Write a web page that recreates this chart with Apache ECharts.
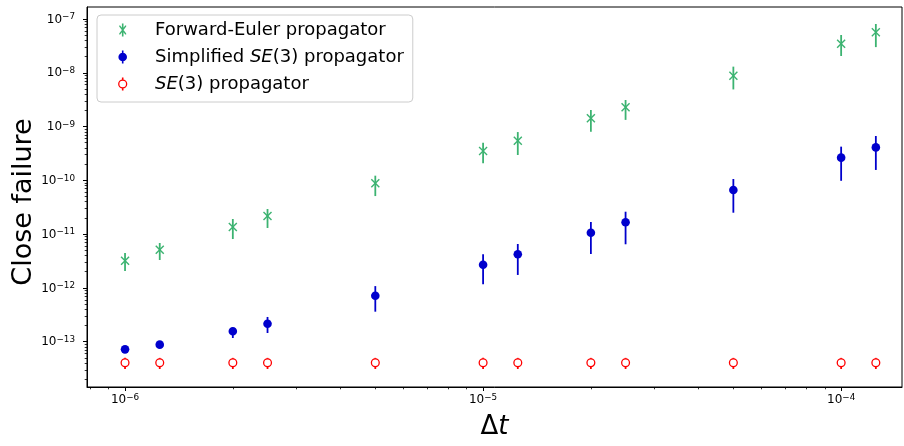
<!DOCTYPE html>
<html>
<head>
<meta charset="utf-8">
<script src="https://cdn.jsdelivr.net/npm/echarts@6/dist/echarts.min.js"></script>
<style>html,body{margin:0;padding:0;background:#fff}#c{width:904px;height:446px}</style>
</head>
<body>
<div id="c"></div>
<script>
// ---- data ----
const dt = [1e-6, 1.25e-6, 2e-6, 2.5e-6, 5e-6, 1e-5, 1.25e-5, 2e-5, 2.5e-5, 5e-5, 1e-4, 1.25e-4];

const feMid = [3.2e-12, 5.1e-12, 1.36e-11, 2.17e-11, 8.8e-11, 3.5e-10, 5.45e-10, 1.43e-9, 2.28e-9, 8.8e-9, 3.47e-8, 5.65e-8];
const feLo  = [2.06e-12, 3.3e-12, 8.1e-12, 1.3e-11, 5.1e-11, 2.08e-10, 2.96e-10, 8.0e-10, 1.33e-9, 4.9e-9, 2.05e-8, 3.0e-8];
const feHi  = [4.46e-12, 6.84e-12, 1.91e-11, 2.93e-11, 1.22e-10, 5.0e-10, 7.9e-10, 2.03e-9, 3.12e-9, 1.3e-8, 5.04e-8, 8.07e-8];

const sMid = [7.2e-14, 8.8e-14, 1.56e-13, 2.16e-13, 7.16e-13, 2.7e-12, 4.22e-12, 1.06e-11, 1.66e-11, 6.6e-11, 2.64e-10, 4.1e-10];
const sLo  = [6.6e-14, 8.1e-14, 1.17e-13, 1.45e-13, 3.61e-13, 1.17e-12, 1.74e-12, 4.27e-12, 6.47e-12, 2.5e-11, 9.8e-11, 1.56e-10];
const sHi  = [7.8e-14, 9.5e-14, 1.8e-13, 2.88e-13, 1.08e-12, 4.22e-12, 6.55e-12, 1.68e-11, 2.61e-11, 1.06e-10, 4.23e-10, 6.67e-10];

const seMid = [4.06e-14, 4.06e-14, 4.06e-14, 4.06e-14, 4.06e-14, 4.06e-14, 4.06e-14, 4.06e-14, 4.06e-14, 4.06e-14, 4.06e-14, 4.06e-14];
const seLo  = [3.1e-14, 3.1e-14, 3.1e-14, 3.1e-14, 3.1e-14, 3.1e-14, 3.1e-14, 3.1e-14, 3.1e-14, 3.1e-14, 3.1e-14, 3.1e-14];
const seHi  = [5.0e-14, 5.0e-14, 5.0e-14, 5.0e-14, 5.0e-14, 5.0e-14, 5.0e-14, 5.0e-14, 5.0e-14, 5.0e-14, 5.0e-14, 5.0e-14];

const seriesNames = ['Forward-Euler propagator', 'Simplified SE(3) propagator', 'SE(3) propagator'];
const xMajorTicks = [1e-6, 1e-5, 1e-4];
const yMajorTicks = [1e-13, 1e-12, 1e-11, 1e-10, 1e-9, 1e-8, 1e-7];
const X_MIN = 7.83e-7, X_MAX = 1.479e-4;
const Y_MIN = 1.436e-14, Y_MAX = 1.671e-7;

// minor ticks (2..9 x 10^n) inside axis ranges
function minorTicks(e0, e1, lo, hi) {
  const out = [];
  for (let e = e0; e <= e1; e++) {
    for (let m = 2; m <= 9; m++) {
      const v = m * Math.pow(10, e);
      if (v >= lo && v <= hi) out.push(v);
    }
  }
  return out;
}
const xMinorTicks = minorTicks(-7, -4, X_MIN, X_MAX);
const yMinorTicks = minorTicks(-15, -7, Y_MIN, Y_MAX);

function powLabel(v) {
  const e = Math.round(Math.log10(v));
  return '{b|10}{s|' + (e < 0 ? '\u2212' : '') + Math.abs(e) + '}';
}
const FONT = 'DejaVu Sans';
const tickRich = {
  b: {fontFamily: FONT, fontSize: 12, lineHeight: 13, padding: [5, 0, 0, 0], verticalAlign: 'bottom', color: '#000'},
  s: {fontFamily: FONT, fontSize: 8.8, lineHeight: 10, verticalAlign: 'top', color: '#000'}
};

const GREEN = '#3cb371', BLUE = '#0000cd', RED = '#ff0000';

function rows(mid, lo, hi) {
  return dt.map((x, i) => [x, mid[i], lo[i], hi[i]]);
}

function makeRender(kind, color) {
  return function (params, api) {
    const x = api.value(0);
    const c = api.coord([x, api.value(1)]);
    const l = api.coord([x, api.value(2)]);
    const h = api.coord([x, api.value(3)]);
    const ch = [{
      type: 'line',
      shape: {x1: c[0], y1: l[1], x2: c[0], y2: h[1]},
      style: {stroke: color, lineWidth: 1.8}
    }];
    if (kind === 'x') {
      const r = 4;
      ch.push({type: 'line', shape: {x1: c[0]-r, y1: c[1]-r, x2: c[0]+r, y2: c[1]+r}, style: {stroke: color, lineWidth: 1.4}});
      ch.push({type: 'line', shape: {x1: c[0]-r, y1: c[1]+r, x2: c[0]+r, y2: c[1]-r}, style: {stroke: color, lineWidth: 1.4}});
    } else if (kind === 'dot') {
      ch.push({type: 'circle', shape: {cx: c[0], cy: c[1], r: 4.3}, style: {fill: color}});
    } else {
      ch.push({type: 'circle', shape: {cx: c[0], cy: c[1], r: 3.9}, style: {fill: '#fff', stroke: color, lineWidth: 1.3}});
    }
    return {type: 'group', children: ch};
  };
}

// legend icons in a 14 x 16 box
const B = 'M0,0 M14,16 ';
const BAR = 'M6.2,1.5 L7.8,1.5 L7.8,14.5 L6.2,14.5 Z ';
const ICON_X = 'path://' + B + BAR +
  'M3.5,3.5 L4.5,3.5 L10.5,11.5 L10.5,12.5 L9.5,12.5 L3.5,4.5 Z ' +
  'M10.5,3.5 L10.5,4.5 L4.5,12.5 L3.5,12.5 L3.5,11.5 L9.5,3.5 Z';
const ICON_DOT = 'path://' + B + BAR + 'M11.3,8 A4.3,4.3 0 1,1 2.7,8 A4.3,4.3 0 1,1 11.3,8 Z';
const ICON_RING = 'path://' + B +
  'M6.2,1.5 L7.8,1.5 L7.8,3.5 L6.2,3.5 Z M6.2,12.5 L7.8,12.5 L7.8,14.5 L6.2,14.5 Z ' +
  'M11.6,8 A4.6,4.6 0 1,1 2.4,8 A4.6,4.6 0 1,1 11.6,8 Z ' +
  'M10.3,8 A3.3,3.3 0 1,0 3.7,8 A3.3,3.3 0 1,0 10.3,8 Z';

function axisBase(min, max) {
  return {
    type: 'log', logBase: 10, min: min, max: max,
    splitLine: {show: false}, minorTick: {show: false}, minorSplitLine: {show: false}
  };
}

const chart = echarts.init(document.getElementById('c'), null, {renderer: 'canvas'});
chart.setOption({
  animation: false,
  backgroundColor: '#fff',
  grid: {left: 87, right: 2, top: 7, bottom: 59, show: true, borderColor: '#000', borderWidth: 1,
         backgroundColor: 'transparent', containLabel: false, outerBoundsMode: 'none'},
  legend: {
    orient: 'vertical', left: 97, top: 15,
    padding: [5, 9, 8, 18.7],
    itemWidth: 14, itemHeight: 16, itemGap: 7,
    backgroundColor: '#fff', borderColor: '#cccccc', borderWidth: 1, borderRadius: 4,
    selectedMode: false,
    itemStyle: {borderWidth: 0},
    textStyle: {
      fontFamily: FONT, fontSize: 18, lineHeight: 20, color: '#000', padding: [0, 0, 0, 20.3],
      rich: {i: {fontFamily: FONT, fontSize: 18, fontStyle: 'italic', color: '#000'}}
    },
    formatter: function (name) { return name.replace('SE', '{i|SE}'); },
    data: [
      {name: seriesNames[0], icon: ICON_X, itemStyle: {color: GREEN, borderWidth: 0}},
      {name: seriesNames[1], icon: ICON_DOT, itemStyle: {color: BLUE, borderWidth: 0}},
      {name: seriesNames[2], icon: ICON_RING, itemStyle: {color: RED, borderWidth: 0}}
    ]
  },
  xAxis: [
    Object.assign(axisBase(X_MIN, X_MAX), {
      position: 'bottom',
      name: '{a|Δ}{b|t}', nameLocation: 'middle', nameGap: 27, nameMoveOverlap: false,
      nameTextStyle: {rich: {
        a: {fontFamily: FONT, fontSize: 26, color: '#000'},
        b: {fontFamily: FONT, fontSize: 26, fontStyle: 'italic', color: '#000'}
      }},
      axisLine: {show: true, lineStyle: {color: '#000', width: 1}},
      axisTick: {show: true, length: 4, lineStyle: {color: '#000', width: 1}, customValues: xMajorTicks},
      axisLabel: {show: true, customValues: xMajorTicks, formatter: powLabel, rich: tickRich, margin: 6}
    }),
    Object.assign(axisBase(X_MIN, X_MAX), {
      position: 'bottom',
      axisLine: {show: false},
      axisTick: {show: true, length: 2.3, lineStyle: {color: '#000', width: 0.8}, customValues: xMinorTicks},
      axisLabel: {show: false}
    })
  ],
  yAxis: [
    Object.assign(axisBase(Y_MIN, Y_MAX), {
      position: 'left',
      name: 'Close failure', nameLocation: 'middle', nameGap: 50, nameMoveOverlap: false,
      nameTextStyle: {fontFamily: FONT, fontSize: 27, color: '#000', padding: [0, 10, 0, 0]},
      axisLine: {show: true, lineStyle: {color: '#000', width: 1}},
      axisTick: {show: true, length: 4, lineStyle: {color: '#000', width: 1}, customValues: yMajorTicks},
      axisLabel: {show: true, customValues: yMajorTicks, formatter: powLabel, rich: tickRich, margin: 12}
    }),
    Object.assign(axisBase(Y_MIN, Y_MAX), {
      position: 'left',
      axisLine: {show: false},
      axisTick: {show: true, length: 2.3, lineStyle: {color: '#000', width: 0.8}, customValues: yMinorTicks},
      axisLabel: {show: false}
    })
  ],
  series: [
    {name: seriesNames[0], type: 'custom', xAxisIndex: 0, yAxisIndex: 0, renderItem: makeRender('x', GREEN),
     itemStyle: {color: GREEN}, encode: {x: 0, y: 1}, data: rows(feMid, feLo, feHi), z: 3},
    {name: seriesNames[1], type: 'custom', xAxisIndex: 0, yAxisIndex: 0, renderItem: makeRender('dot', BLUE),
     itemStyle: {color: BLUE}, encode: {x: 0, y: 1}, data: rows(sMid, sLo, sHi), z: 4},
    {name: seriesNames[2], type: 'custom', xAxisIndex: 0, yAxisIndex: 0, renderItem: makeRender('ring', RED),
     itemStyle: {color: RED}, encode: {x: 0, y: 1}, data: rows(seMid, seLo, seHi), z: 5}
  ]
});
</script>
</body>
</html>
